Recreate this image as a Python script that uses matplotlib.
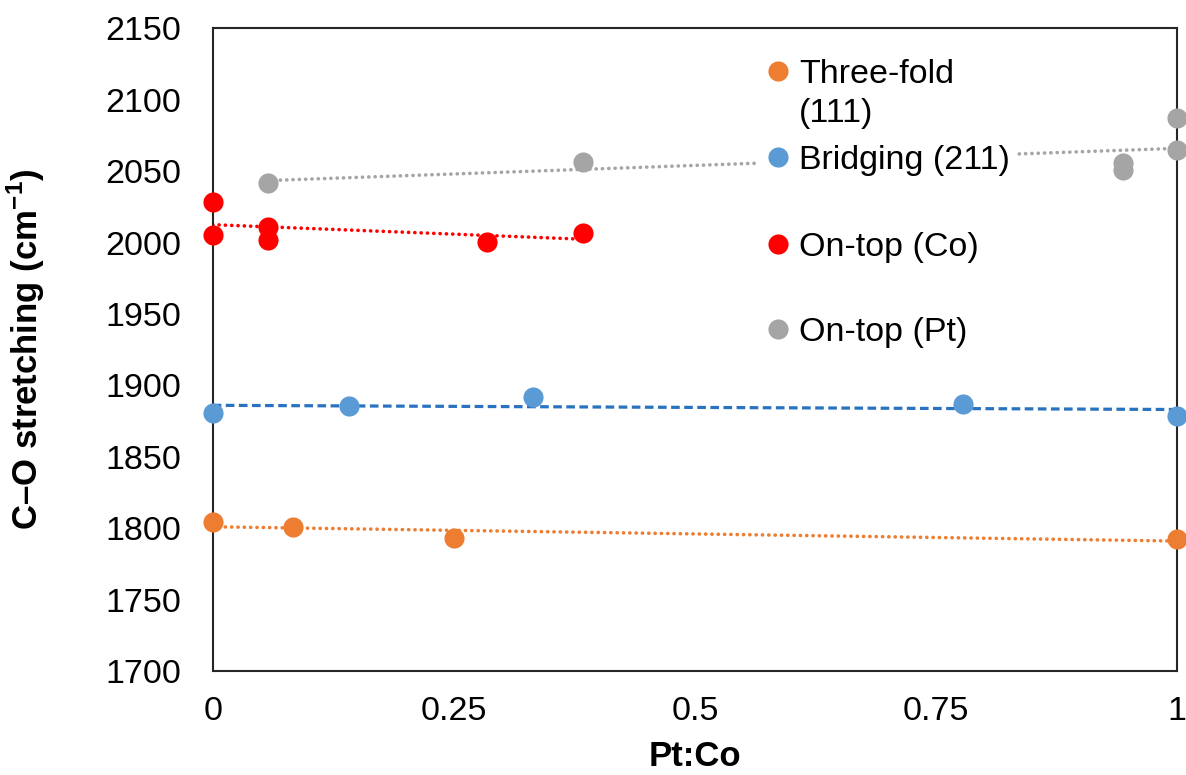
import numpy as np
import matplotlib
matplotlib.use("Agg")
import matplotlib.pyplot as plt
from matplotlib.lines import Line2D

plt.rcParams["font.family"] = ["Liberation Sans", "DejaVu Sans"]
plt.rcParams["mathtext.fontset"] = "custom"
plt.rcParams["mathtext.rm"] = "Liberation Sans"
plt.rcParams["mathtext.bf"] = "Liberation Sans:bold"

# Pt:Co ratio and C–O stretching frequency (cm-1) per adsorption site
threefold_x = [0.0, 0.083, 0.25, 1.0]
threefold_y = [1804.1, 1801.0, 1793.3, 1792.2]

bridging_x = [0.0, 0.1416, 0.332, 0.7775, 1.0]
bridging_y = [1880.8, 1885.5, 1892.0, 1886.7, 1878.5]

ontop_co_x = [0.0, 0.0, 0.057, 0.057, 0.284, 0.384]
ontop_co_y = [2028.6, 2005.3, 2011.1, 2001.8, 2000.6, 2006.9]

ontop_pt_x = [0.057, 0.384, 0.944, 0.944, 1.0, 1.0]
ontop_pt_y = [2041.5, 2056.2, 2055.5, 2050.8, 2087.0, 2064.8]

labels = ["Three-fold\n(111)", "Bridging (211)", "On-top (Co)", "On-top (Pt)"]
x_ticks = [0, 0.25, 0.5, 0.75, 1]
x_tick_labels = ["0", "0.25", "0.5", "0.75", "1"]
y_ticks = list(range(1700, 2151, 50))

series = [
    (threefold_x, threefold_y, "#ED7D31", "#ED7D31", "dot"),
    (bridging_x, bridging_y, "#5B9BD5", "#2872C0", "dash"),
    (ontop_co_x, ontop_co_y, "#FF0000", "#FF0000", "dot"),
    (ontop_pt_x, ontop_pt_y, "#A5A5A5", "#A5A5A5", "dot"),
]

fig = plt.figure(figsize=(11.86, 7.75), dpi=100)
ax = fig.add_axes([212.7 / 1186, 1 - 671 / 775, 964.6 / 1186, 642.7 / 775])

handles = []
for xs, ys, mcol, lcol, style in series:
    xs = np.asarray(xs)
    ys = np.asarray(ys)
    # linear trendline across the range of each series
    slope, icpt = np.polyfit(xs, ys, 1)
    tx = np.array([xs.min(), xs.max()])
    if style == "dot":
        ax.plot(tx, slope * tx + icpt, color=lcol, lw=2.6,
                linestyle=(0, (0.05, 1.7)), dash_capstyle="round", zorder=2)
    else:
        ax.plot(tx, slope * tx + icpt, color=lcol, lw=2.3,
                linestyle=(0, (2.7, 1.4)), zorder=2)
    ax.plot(xs, ys, "o", color=mcol, markersize=14.5, markeredgewidth=0,
            clip_on=False, zorder=3)
    handles.append(Line2D([], [], marker="o", linestyle="none", color=mcol,
                          markersize=14.5, markeredgewidth=0))

ax.set_xlim(0, 1)
ax.set_ylim(1700, 2150)
ax.set_xticks(x_ticks)
ax.set_xticklabels(x_tick_labels)
ax.set_yticks(y_ticks)
ax.tick_params(axis="both", length=0, labelsize=24.5)
ax.tick_params(axis="y", pad=23)
ax.tick_params(axis="x", pad=18)
for sp in ax.spines.values():
    sp.set_linewidth(1.5)
    sp.set_color("#262626")

ax.set_xlabel("Pt:Co", fontsize=25, fontweight="bold")
ax.xaxis.set_label_coords(0.5, -0.108)
ax.set_ylabel(r"C–O stretching (cm$^{\mathbf{-1}}$)", fontsize=25,
              fontweight="bold")
ax.yaxis.set_label_coords(-0.172, 0.5)

leg_kw = dict(loc="upper left", fontsize=24.5, frameon=True, facecolor="white",
              edgecolor="none", framealpha=1.0, handlelength=0.8,
              handletextpad=0.2, borderpad=0.2, borderaxespad=0.0,
              bbox_transform=fig.transFigure)

leg1 = ax.legend(handles[:2], labels[:2], labelspacing=0.45,
                 bbox_to_anchor=(758 / 1186, 1 - 52 / 775), **leg_kw)
# keep the marker of the wrapped label level with its first line
try:
    row = leg1._legend_handle_box.get_children()[0].get_children()[0]
    row.align = "top"
except Exception:
    pass
for t in leg1.get_texts():
    t.set_linespacing(1.35)
ax.add_artist(leg1)

leg2 = ax.legend(handles[2:], labels[2:], labelspacing=1.6,
                 bbox_to_anchor=(758 / 1186, 1 - 225 / 775), **leg_kw)

fig.savefig("out.png", dpi=100, facecolor="white")
